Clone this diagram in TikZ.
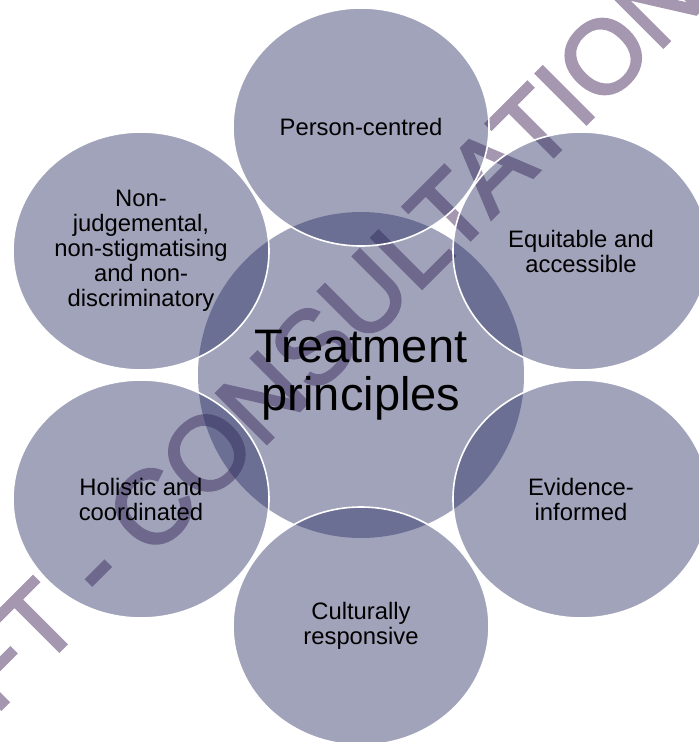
\documentclass[tikz,border=0pt]{standalone}
\usepackage{fontspec}
\setmainfont{Liberation Sans}
\newfontfamily\wmfont[FakeBold=2.5]{Liberation Sans}
\usetikzlibrary{shapes.geometric}
\definecolor{circfill}{RGB}{40,45,97}
\definecolor{wmark}{RGB}{166,151,177}
\begin{document}
\begin{tikzpicture}[x=1pt,y=1pt,
  outerbub/.style={ellipse, minimum width=256pt, minimum height=238pt, inner sep=0pt,
    fill=circfill, fill opacity=0.44, text opacity=1, draw=white, line width=1.6pt,
    align=center, font=\fontsize{23.8}{25}\selectfont},
  hubstyle/.style={circle, minimum size=326pt, inner sep=0pt,
    fill=circfill, fill opacity=0.44, text opacity=1,
    align=center, font=\fontsize{47}{48}\selectfont},
  wm/.style={text=wmark, font=\wmfont\fontsize{104}{104}\selectfont, rotate=45, inner sep=0pt}]
\useasboundingbox (0,0) rectangle (699,-742);
\node[wm] (wmtext) at (250,-410) {DRAFT - CONSULTATION};
\node[hubstyle] (hub) at (361,-375) {Treatment\\principles};
\node[outerbub] (o1) at (361,-127) {Person-centred};
\node[outerbub] (o2) at (581,-251) {Equitable and\\accessible};
\node[outerbub] (o3) at (581,-499) {Evidence-\\informed};
\node[outerbub] (o4) at (361,-626) {Culturally\\responsive};
\node[outerbub] (o5) at (141,-499) {Holistic and\\coordinated};
\node[outerbub] (o6) at (141,-251) {Non-\\judgemental,\\non-stigmatising\\and non-\\discriminatory};
\end{tikzpicture}
\end{document}
